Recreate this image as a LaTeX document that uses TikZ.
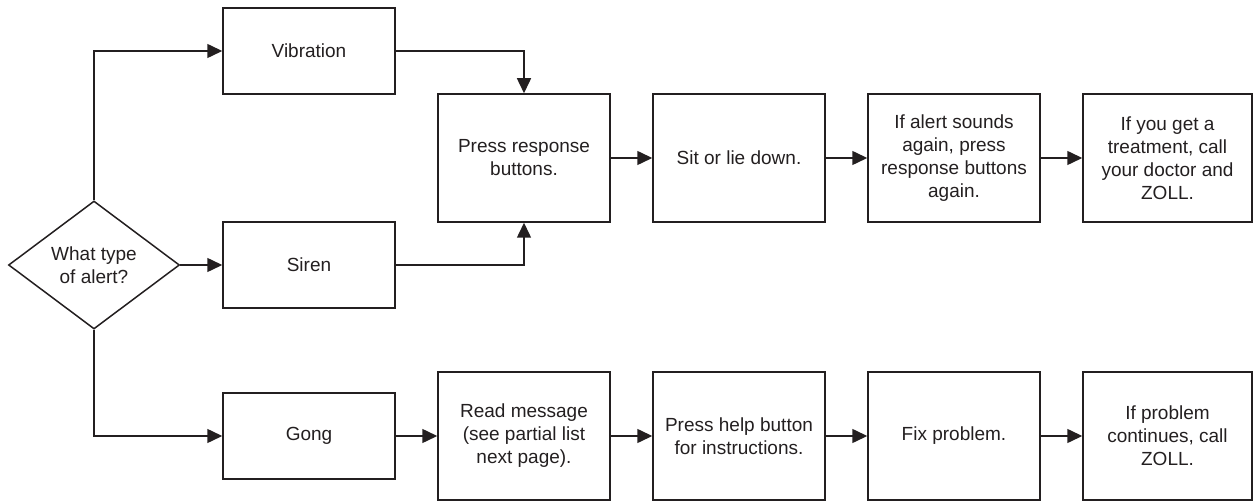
\documentclass[tikz,border=0pt]{standalone}
\usepackage{fontspec}
\setmainfont{Liberation Sans}
\usetikzlibrary{shapes.geometric,arrows.meta}
\definecolor{ink}{HTML}{231F20}
\begin{document}
\begin{tikzpicture}[x=1pt,y=-1pt,
  every node/.style={font=\fontsize{19}{23}\selectfont, text=ink},
  box/.style={draw=ink, line width=1.5pt, rectangle, align=center, inner sep=0pt},
  small/.style={box, minimum width=172pt, minimum height=86pt},
  tall/.style={box, minimum width=172pt, minimum height=128pt},
  arr/.style={draw=ink, line width=1.5pt, -{Triangle[length=15pt,width=14pt]}}]
\useasboundingbox (0,0) rectangle (1253,502);
\node[draw=ink, line width=1.5pt, diamond, aspect=1.336, minimum width=171pt, minimum height=128pt, inner sep=0pt, align=center] (dia) at (94,265) {What type\\of alert?};
\node[small] (vib) at (309,51) {Vibration};
\node[small] (siren) at (309,265) {Siren};
\node[small] (gong) at (309,436) {Gong};
\node[tall] (press) at (524,158) {Press response\\buttons.};
\node[tall] (sit) at (739,158) {Sit or lie down.};
\node[tall] (again) at (954,158) {If alert sounds\\again, press\\response buttons\\again.};
\node[tall, minimum width=169pt] (call) at (1167.5,158) {If you get a\\treatment, call\\your doctor and\\ZOLL.};
\node[tall] (read) at (524,436) {Read message\\(see partial list\\next page).};
\node[tall] (help) at (739,436) {Press help button\\for instructions.};
\node[tall] (fix) at (954,436) {Fix problem.};
\node[tall, minimum width=169pt] (cont) at (1167.5,436) {If problem\\continues, call\\ZOLL.};
\draw[arr] (dia.north) |- (vib.west);
\draw[arr] (dia.east) -- (siren.west);
\draw[arr] (dia.south) |- (gong.west);
\draw[arr] (vib.east) -| (press.north);
\draw[arr] (siren.east) -| (press.south);
\draw[arr] (gong.east) -- (read.west);
\draw[arr] (press.east) -- (sit.west);
\draw[arr] (sit.east) -- (again.west);
\draw[arr] (again.east) -- (call.west);
\draw[arr] (read.east) -- (help.west);
\draw[arr] (help.east) -- (fix.west);
\draw[arr] (fix.east) -- (cont.west);
\end{tikzpicture}
\end{document}
